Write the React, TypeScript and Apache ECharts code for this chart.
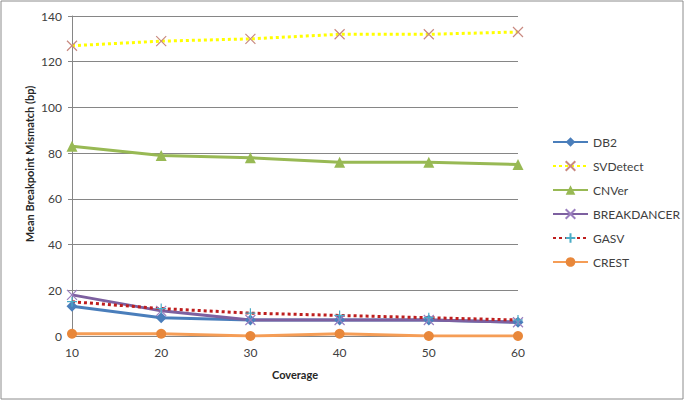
import React, { useEffect, useRef } from "react";
import * as echarts from "echarts";

const categories = ["10", "20", "30", "40", "50", "60"];
const db2 = [13, 8, 7, 7, 7, 6];
const svdetect = [127, 129, 130, 132, 132, 133];
const cnver = [83, 79, 78, 76, 76, 75];
const breakdancer = [18, 11, 7, 7, 7, 6];
const gasv = [15, 12, 10, 9, 8, 7];
const crest = [1, 1, 0, 1, 0, 0];
const yTicks = { min: 0, max: 140, interval: 20 };
const yTitle = "Mean Breakpoint Mismatch (bp)";

const FONT = "Lato, 'Open Sans', sans-serif";
const X_PATH = "path://M0,0L10,10M10,0L0,10";
const PLUS_PATH = "path://M5,0L5,10M0,5L10,5";

export default function App() {
  const ref = useRef<HTMLDivElement>(null);
  useEffect(() => {
    if (!ref.current) return;
    const chart = echarts.init(ref.current, null, { renderer: "svg" });
    chart.setOption({
      animation: false,
      backgroundColor: "#ffffff",
      textStyle: { fontFamily: FONT },
      graphic: [
        {
          type: "rect",
          shape: { x: 1, y: 1, width: 682, height: 398 },
          style: { fill: "none", stroke: "#8c8c8c", lineWidth: 1 },
          silent: true,
          z: -1,
        },
        {
          type: "text",
          x: 29,
          y: 164,
          rotation: Math.PI / 2,
          style: {
            text: yTitle,
            fontFamily: FONT,
            fontWeight: "bold",
            fontSize: 11,
            fill: "#262626",
            align: "center",
            verticalAlign: "middle",
          },
          silent: true,
        },
      ],
      grid: { left: 72, right: 167, top: 16, bottom: 65 },
      legend: {
        orient: "vertical",
        left: 547,
        top: 131,
        itemWidth: 35,
        itemHeight: 12,
        itemGap: 12,
        textStyle: { fontFamily: FONT, fontSize: 12, color: "#404040" },
        data: ["DB2", "SVDetect", "CNVer", "BREAKDANCER", "GASV", "CREST"],
      },
      xAxis: {
        type: "category",
        data: categories,
        boundaryGap: false,
        name: "Coverage",
        nameLocation: "middle",
        nameGap: 33,
        nameTextStyle: { fontFamily: FONT, fontWeight: "bold", fontSize: 11, color: "#262626" },
        axisLine: { lineStyle: { color: "#868686", width: 1 } },
        axisTick: { show: false },
        axisLabel: { fontFamily: FONT, fontSize: 12, color: "#404040", margin: 10 },
      },
      yAxis: {
        type: "value",
        min: yTicks.min,
        max: yTicks.max,
        interval: yTicks.interval,
        axisLine: { show: true, lineStyle: { color: "#868686", width: 1 } },
        axisTick: { show: true, length: 4, lineStyle: { color: "#868686" } },
        axisLabel: { fontFamily: FONT, fontSize: 12, color: "#404040", margin: 10 },
        splitLine: { lineStyle: { color: "#868686", width: 1 } },
      },
      series: [
        {
          name: "DB2",
          type: "line",
          data: db2,
          symbol: "diamond",
          symbolSize: 11,
          lineStyle: { color: "#4a7ebb", width: 3 },
          itemStyle: { color: "#4a7ebb" },
        },
        {
          name: "SVDetect",
          type: "line",
          data: svdetect,
          symbol: X_PATH,
          symbolSize: 10,
          lineStyle: { color: "#ffff00", width: 3, type: [3, 3] },
          itemStyle: { color: "#d49a8a", borderColor: "#c98a80", borderWidth: 1.2 },
        },
        {
          name: "CNVer",
          type: "line",
          data: cnver,
          symbol: "triangle",
          symbolSize: 11,
          lineStyle: { color: "#98b954", width: 3 },
          itemStyle: { color: "#98b954" },
        },
        {
          name: "BREAKDANCER",
          type: "line",
          data: breakdancer,
          symbol: X_PATH,
          symbolSize: 10,
          lineStyle: { color: "#7d60a0", width: 3 },
          itemStyle: { color: "#7d60a0", borderColor: "#9b7fbf", borderWidth: 1.2 },
        },
        {
          name: "GASV",
          type: "line",
          data: gasv,
          symbol: PLUS_PATH,
          symbolSize: 10,
          lineStyle: { color: "#be1e1e", width: 3, type: [3, 3] },
          itemStyle: { color: "#4bacc6", borderColor: "#4bacc6", borderWidth: 1.2 },
        },
        {
          name: "CREST",
          type: "line",
          data: crest,
          symbol: "circle",
          symbolSize: 10,
          lineStyle: { color: "#f59d56", width: 3 },
          itemStyle: { color: "#e8873a" },
        },
      ],
    });
    return () => chart.dispose();
  }, []);
  return (
    <div
      ref={ref}
      style={{ position: "fixed", left: 0, top: 0, width: 685, height: 401 }}
    />
  );
}
